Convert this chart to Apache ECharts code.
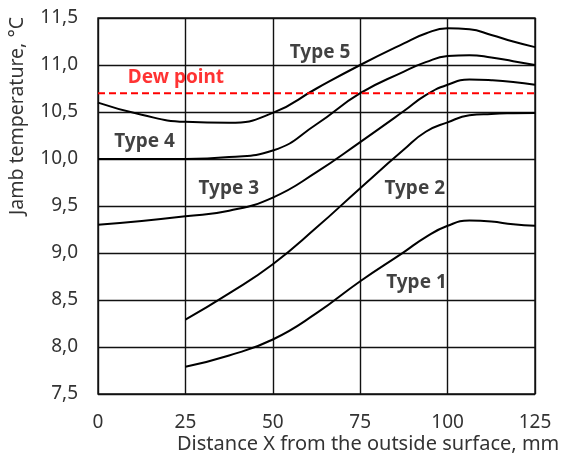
<!DOCTYPE html>
<html>
<head>
<meta charset="utf-8">
<script src="https://cdn.jsdelivr.net/npm/echarts@6/dist/echarts.min.js"></script>
<style>html,body{margin:0;padding:0;background:#fff;}#c{width:561px;height:459px;}</style>
</head>
<body>
<div id="c"></div>
<script>
// Distance X (mm)
var xType12 = [25, 37.5, 50, 62.5, 75, 87.5, 93.75, 100, 106.25, 112.5, 118.75, 125];
var xType345 = [0, 12.5, 25, 37.5, 50, 62.5, 75, 87.5, 93.75, 100, 106.25, 112.5, 118.75, 125];
// Jamb temperature (°C)
var type1 = [7.79, 7.91, 8.08, 8.36, 8.70, 9.01, 9.17, 9.29, 9.345, 9.335, 9.305, 9.29];
var type2 = [8.29, 8.57, 8.88, 9.27, 9.69, 10.10, 10.29, 10.39, 10.465, 10.48, 10.487, 10.49];
var type3 = [9.30, 9.34, 9.39, 9.45, 9.59, 9.86, 10.18, 10.51, 10.68, 10.79, 10.845, 10.838, 10.82, 10.79];
var type4 = [10.0, 10.0, 10.0, 10.02, 10.09, 10.37, 10.70, 10.93, 11.03, 11.095, 11.105, 11.08, 11.04, 11.0];
var type5 = [10.60, 10.47, 10.395, 10.385, 10.49, 10.75, 11.0, 11.23, 11.335, 11.39, 11.38, 11.32, 11.25, 11.19];
var dewPoint = 10.7;
var dewX = [0, 125];
// Curve labels: [x, temperature, text]
var curveLabels = [
  [63.5, 11.13, 'Type 5'],
  [13.3, 10.18, 'Type 4'],
  [37.4, 9.68, 'Type 3'],
  [90.6, 9.69, 'Type 2'],
  [91.1, 8.69, 'Type 1']
];
var dewLabel = [22.3, 10.865, 'Dew point'];
var xTicks = {min: 0, max: 125, step: 25};
var yTicks = {min: 7.5, max: 11.5, step: 0.5};
var xTitle = 'Distance X from the outside surface, mm';
var yTitle = 'Jamb temperature, °C';

function pairs(xs, ys) { return xs.map(function (x, i) { return [x, ys[i]]; }); }

var FONT = 'Noto Sans';
var lineStyle = {color: '#000', width: 2};
function curve(name, xs, ys) {
  return {name: name, type: 'line', data: pairs(xs, ys), smooth: 0.5, symbol: 'none',
    lineStyle: lineStyle, silent: true, z: 3};
}

var chart = echarts.init(document.getElementById('c'));
chart.setOption({
  animation: false,
  backgroundColor: '#fff',
  grid: {left: 98, right: 26, top: 18, bottom: 65, show: true, borderColor: '#111', borderWidth: 1.4},
  xAxis: {
    type: 'value', min: xTicks.min, max: xTicks.max, interval: xTicks.step,
    axisLine: {show: false}, axisTick: {show: false},
    splitLine: {show: true, lineStyle: {color: '#111', width: 1.4}},
    axisLabel: {margin: 19, fontFamily: FONT, fontSize: 19, color: '#333'}
  },
  yAxis: {
    type: 'value', min: yTicks.min, max: yTicks.max, interval: yTicks.step,
    axisLine: {show: false}, axisTick: {show: false},
    splitLine: {show: true, lineStyle: {color: '#111', width: 1.4}},
    axisLabel: {margin: 20, fontFamily: FONT, fontSize: 19, color: '#333',
      formatter: function (v) { return v.toFixed(1).replace('.', ','); }}
  },
  graphic: [
    {type: 'text', left: 177, top: 434, style: {text: xTitle, font: '20px "Noto Sans"', fill: '#333'}},
    {type: 'text', x: 7, y: 116, rotation: Math.PI / 2,
      style: {text: yTitle, font: '19.5px "Noto Sans"', fill: '#333', textAlign: 'center', textVerticalAlign: 'top'}}
  ],
  series: [
    curve('Type 1', xType12, type1),
    curve('Type 2', xType12, type2),
    curve('Type 3', xType345, type3),
    curve('Type 4', xType345, type4),
    curve('Type 5', xType345, type5),
    {name: 'Dew point', type: 'line', data: dewX.map(function (x) { return [x, dewPoint]; }),
      symbol: 'none', silent: true, z: 4,
      lineStyle: {color: '#ff0000', width: 2, type: [7, 4]}},
    {type: 'scatter', symbolSize: 0, silent: true, z: 5,
      data: curveLabels.map(function (d) { return {value: [d[0], d[1]], name: d[2]}; }),
      label: {show: true, position: 'inside', formatter: '{b}', fontFamily: FONT, fontWeight: 'bold',
        fontSize: 19, color: '#111'}},
    {type: 'scatter', symbolSize: 0, silent: true, z: 5,
      data: [{value: [dewLabel[0], dewLabel[1]], name: dewLabel[2]}],
      label: {show: true, position: 'inside', formatter: '{b}', fontFamily: FONT, fontWeight: 'bold',
        fontSize: 19, color: '#ff0000'}}
  ]
});
</script>
</body>
</html>
